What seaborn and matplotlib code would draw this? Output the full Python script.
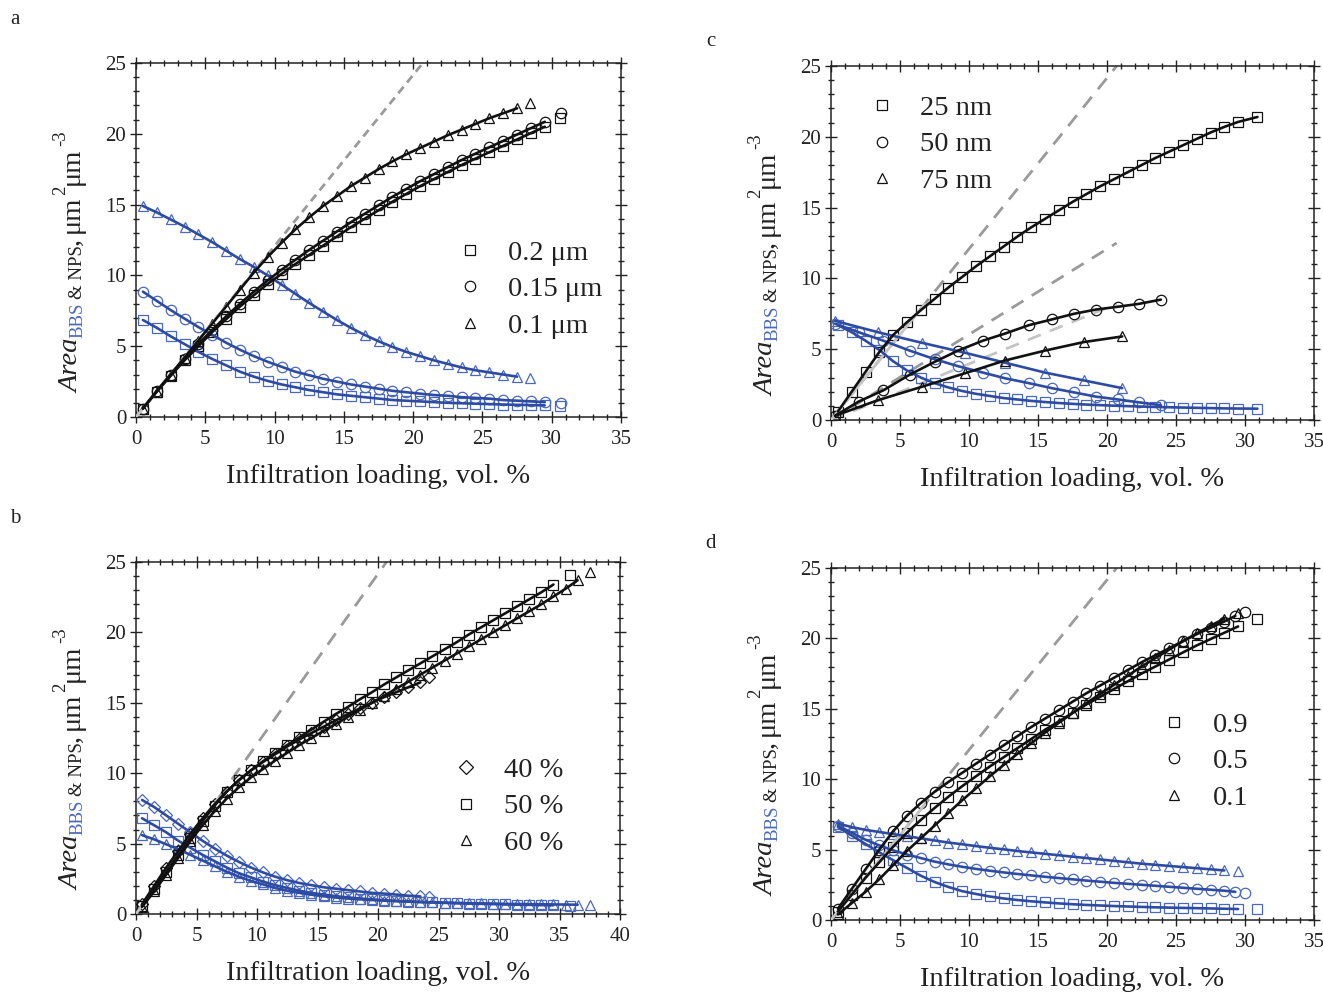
import numpy as np
import matplotlib
matplotlib.use("Agg")
import matplotlib.pyplot as plt
import matplotlib.transforms as mtransforms
from matplotlib.lines import Line2D
from matplotlib.ticker import MultipleLocator
import seaborn as sns

sns.set_theme(style="ticks")
plt.rcParams["font.family"] = ["Liberation Serif", "DejaVu Serif"]

# ---------------- data: panel a ----------------
xa_sq = [0.5, 1.5, 2.5, 3.5, 4.5, 5.5, 6.5, 7.5, 8.5, 9.5, 10.5, 11.5, 12.5, 13.5, 14.5, 15.5,
         16.5, 17.5, 18.5, 19.5, 20.5, 21.5, 22.5, 23.5, 24.5, 25.5, 26.5, 27.5, 28.5, 29.5, 30.6]
xa_ci = [0.5, 1.5, 2.5, 3.5, 4.5, 5.5, 6.5, 7.5, 8.5, 9.5, 10.5, 11.5, 12.5, 13.5, 14.5, 15.5,
         16.5, 17.5, 18.5, 19.5, 20.5, 21.5, 22.5, 23.5, 24.5, 25.5, 26.5, 27.5, 28.5, 29.5, 30.7]
xa_tr = [0.5, 1.5, 2.5, 3.5, 4.5, 5.5, 6.5, 7.5, 8.5, 9.5, 10.5, 11.5, 12.5, 13.5, 14.5, 15.5,
         16.5, 17.5, 18.5, 19.5, 20.5, 21.5, 22.5, 23.5, 24.5, 25.5, 26.5, 27.5, 28.4]
ya_sq_k = [0.6, 1.8, 2.9, 4.0, 5.0, 6.0, 6.9, 7.8, 8.6, 9.4, 10.1, 10.8, 11.45, 12.1, 12.75, 13.4,
           14.0, 14.6, 15.2, 15.75, 16.3, 16.8, 17.3, 17.8, 18.25, 18.7, 19.15, 19.6, 20.05, 20.5, 21.1]
ya_ci_k = [0.6, 1.85, 3.0, 4.1, 5.15, 6.15, 7.1, 8.0, 8.85, 9.65, 10.4, 11.1, 11.8, 12.45, 13.1, 13.75,
           14.35, 14.95, 15.55, 16.1, 16.65, 17.15, 17.65, 18.15, 18.6, 19.05, 19.5, 19.95, 20.4, 20.85, 21.5]
ya_tr_k = [0.6, 1.8, 3.0, 4.2, 5.4, 6.6, 7.8, 9.0, 10.2, 11.3, 12.3, 13.25, 14.1, 14.9, 15.6, 16.3,
           16.9, 17.5, 18.05, 18.55, 19.0, 19.45, 19.9, 20.3, 20.7, 21.1, 21.45, 21.8, 22.2]
ya_sq_b = [6.85, 6.3, 5.7, 5.15, 4.6, 4.1, 3.65, 3.2, 2.85, 2.55, 2.3, 2.1, 1.9, 1.75, 1.6, 1.5,
           1.4, 1.3, 1.2, 1.15, 1.1, 1.05, 1.0, 0.97, 0.94, 0.91, 0.88, 0.86, 0.84, 0.82, 0.8]
ya_ci_b = [8.85, 8.2, 7.55, 6.95, 6.35, 5.8, 5.25, 4.75, 4.3, 3.9, 3.55, 3.2, 2.95, 2.7, 2.5, 2.3,
           2.15, 2.0, 1.85, 1.75, 1.65, 1.55, 1.5, 1.4, 1.35, 1.3, 1.2, 1.15, 1.1, 1.05, 1.0]
ya_tr_b = [14.9, 14.45, 13.95, 13.45, 12.9, 12.35, 11.75, 11.15, 10.6, 10.0, 9.35, 8.7, 8.05, 7.45,
           6.85, 6.3, 5.8, 5.35, 4.95, 4.6, 4.3, 4.0, 3.75, 3.5, 3.3, 3.15, 3.0, 2.85, 2.75]
labels_a = ["0.2 μm", "0.15 μm", "0.1 μm"]

# ---------------- data: panel b ----------------
xb_di = [0.5, 1.5, 2.5, 3.5, 4.5, 5.5, 6.5, 7.5, 8.5, 9.5, 10.5, 11.5, 12.5, 13.5, 14.5, 15.5,
         16.5, 17.5, 18.5, 19.5, 20.5, 21.5, 22.5, 23.5, 24.2]
xb_sq = [0.5, 1.5, 2.5, 3.5, 4.5, 5.5, 6.5, 7.5, 8.5, 9.5, 10.5, 11.5, 12.5, 13.5, 14.5, 15.5,
         16.5, 17.5, 18.5, 19.5, 20.5, 21.5, 22.5, 23.5, 24.5, 25.5, 26.5, 27.5, 28.5, 29.5, 30.5,
         31.5, 32.5, 33.5, 34.5, 35.9]
xb_tr = [0.5, 1.5, 2.5, 3.5, 4.5, 5.5, 6.5, 7.5, 8.5, 9.5, 10.5, 11.5, 12.5, 13.5, 14.5, 15.5,
         16.5, 17.5, 18.5, 19.5, 20.5, 21.5, 22.5, 23.5, 24.5, 25.5, 26.5, 27.5, 28.5, 29.5, 30.5,
         31.5, 32.5, 33.5, 34.5, 35.5, 36.5, 37.5]
yb_di_k = [0.7, 2.0, 3.3, 4.5, 5.7, 6.8, 7.8, 8.7, 9.5, 10.2, 10.8, 11.35, 11.9, 12.4, 12.85, 13.3,
           13.75, 14.2, 14.6, 15.0, 15.4, 15.75, 16.1, 16.45, 16.8]
yb_sq_k = [0.6, 1.8, 3.0, 4.2, 5.4, 6.6, 7.7, 8.7, 9.5, 10.2, 10.85, 11.45, 12.0, 12.55, 13.1, 13.65,
           14.2, 14.7, 15.25, 15.75, 16.3, 16.8, 17.3, 17.8, 18.3, 18.8, 19.3, 19.85, 20.35, 20.85,
           21.35, 21.85, 22.35, 22.85, 23.4, 24.1]
yb_tr_k = [0.5, 1.6, 2.8, 4.0, 5.2, 6.3, 7.3, 8.2, 9.0, 9.7, 10.3, 10.9, 11.45, 12.0, 12.5, 13.0,
           13.5, 14.0, 14.5, 15.0, 15.5, 16.0, 16.5, 17.0, 17.5, 18.0, 18.5, 19.0, 19.5, 20.0, 20.5,
           21.0, 21.5, 22.0, 22.55, 23.1, 23.7, 24.3]
yb_di_b = [8.1, 7.6, 7.0, 6.4, 5.8, 5.2, 4.65, 4.15, 3.7, 3.3, 2.95, 2.65, 2.4, 2.2, 2.05, 1.9,
           1.8, 1.7, 1.6, 1.5, 1.45, 1.38, 1.3, 1.25, 1.2]
yb_sq_b = [6.8, 6.3, 5.8, 5.2, 4.7, 4.2, 3.75, 3.3, 2.9, 2.6, 2.3, 2.05, 1.85, 1.65, 1.5, 1.38,
           1.27, 1.18, 1.1, 1.04, 0.98, 0.93, 0.89, 0.85, 0.82, 0.79, 0.76, 0.74, 0.72, 0.7, 0.68,
           0.66, 0.65, 0.63, 0.62, 0.6]
yb_tr_b = [5.6, 5.3, 4.95, 4.6, 4.2, 3.8, 3.4, 3.0, 2.65, 2.35, 2.1, 1.85, 1.65, 1.5, 1.37, 1.26,
           1.17, 1.1, 1.04, 0.99, 0.95, 0.91, 0.88, 0.85, 0.83, 0.81, 0.79, 0.77, 0.75, 0.74, 0.72,
           0.71, 0.7, 0.69, 0.68, 0.67, 0.66, 0.65]
labels_b = ["40 %", "50 %", "60 %"]

# ---------------- data: panel c ----------------
xc_sq = [0.5, 1.5, 2.5, 3.5, 4.5, 5.5, 6.5, 7.5, 8.5, 9.5, 10.5, 11.5, 12.5, 13.5, 14.5, 15.5,
         16.5, 17.5, 18.5, 19.5, 20.5, 21.5, 22.5, 23.5, 24.5, 25.5, 26.5, 27.5, 28.5, 29.5, 30.9]
xc_ci = [0.3, 2.0, 3.8, 5.7, 7.5, 9.2, 11.0, 12.6, 14.35, 16.0, 17.6, 19.2, 20.8, 22.3, 23.9]
xc_tr = [0.3, 3.4, 6.6, 9.7, 12.6, 15.5, 18.3, 21.1]
yc_sq_k = [0.6, 2.0, 3.4, 4.8, 6.0, 6.9, 7.75, 8.55, 9.35, 10.1, 10.85, 11.55, 12.25, 12.95, 13.6,
           14.2, 14.8, 15.4, 15.95, 16.5, 17.0, 17.5, 18.0, 18.5, 18.95, 19.4, 19.85, 20.3, 20.7,
           21.05, 21.4]
yc_ci_k = [0.3, 1.3, 2.1, 3.2, 4.1, 4.9, 5.6, 6.1, 6.7, 7.1, 7.5, 7.8, 8.0, 8.2, 8.5]
yc_tr_k = [0.3, 1.4, 2.35, 3.3, 4.2, 4.9, 5.5, 5.9]
yc_sq_b = [6.7, 6.2, 5.6, 4.95, 4.15, 3.5, 3.0, 2.6, 2.3, 2.05, 1.85, 1.7, 1.55, 1.45, 1.35, 1.27,
           1.2, 1.14, 1.09, 1.05, 1.01, 0.98, 0.95, 0.92, 0.9, 0.88, 0.86, 0.84, 0.82, 0.81, 0.8]
yc_ci_b = [6.8, 6.2, 5.6, 4.9, 4.3, 3.8, 3.35, 2.95, 2.6, 2.25, 1.95, 1.65, 1.45, 1.25, 1.05]
yc_tr_b = [7.0, 6.2, 5.45, 4.75, 4.05, 3.35, 2.8, 2.25]
labels_c = ["25 nm", "50 nm", "75 nm"]

# ---------------- data: panel d ----------------
xd_sq = [0.5, 1.5, 2.5, 3.5, 4.5, 5.5, 6.5, 7.5, 8.5, 9.5, 10.5, 11.5, 12.5, 13.5, 14.5, 15.5,
         16.5, 17.5, 18.5, 19.5, 20.5, 21.5, 22.5, 23.5, 24.5, 25.5, 26.5, 27.5, 28.5, 29.5, 30.9]
xd_ci = [0.5, 1.5, 2.5, 3.5, 4.5, 5.5, 6.5, 7.5, 8.5, 9.5, 10.5, 11.5, 12.5, 13.5, 14.5, 15.5,
         16.5, 17.5, 18.5, 19.5, 20.5, 21.5, 22.5, 23.5, 24.5, 25.5, 26.5, 27.5, 28.5, 29.3, 30.0]
xd_tr = [0.5, 1.5, 2.5, 3.5, 4.5, 5.5, 6.5, 7.5, 8.5, 9.5, 10.5, 11.5, 12.5, 13.5, 14.5, 15.5,
         16.5, 17.5, 18.5, 19.5, 20.5, 21.5, 22.5, 23.5, 24.5, 25.5, 26.5, 27.5, 28.5, 29.5]
yd_sq_k = [0.6, 1.8, 3.0, 4.1, 5.2, 6.2, 7.1, 7.95, 8.75, 9.5, 10.2, 10.9, 11.55, 12.2, 12.85, 13.5,
           14.1, 14.7, 15.3, 15.85, 16.4, 16.95, 17.5, 18.0, 18.5, 19.0, 19.5, 19.95, 20.4, 20.85, 21.4]
yd_ci_k = [0.8, 2.2, 3.6, 5.0, 6.3, 7.4, 8.3, 9.1, 9.8, 10.45, 11.1, 11.75, 12.4, 13.05, 13.7, 14.3,
           14.9, 15.5, 16.1, 16.65, 17.2, 17.75, 18.3, 18.8, 19.3, 19.8, 20.3, 20.75, 21.2, 21.6, 21.9]
yd_tr_k = [0.4, 1.2, 2.0, 2.9, 3.9, 4.9, 5.8, 6.7, 7.6, 8.5, 9.35, 10.2, 11.0, 11.8, 12.55, 13.3,
           14.0, 14.7, 15.4, 16.05, 16.7, 17.35, 18.0, 18.6, 19.2, 19.8, 20.35, 20.9, 21.4, 21.8]
yd_sq_b = [6.6, 6.0, 5.4, 4.8, 4.25, 3.7, 3.15, 2.7, 2.35, 2.05, 1.85, 1.67, 1.53, 1.42, 1.33, 1.25,
           1.18, 1.12, 1.07, 1.03, 0.99, 0.96, 0.93, 0.9, 0.88, 0.86, 0.84, 0.82, 0.8, 0.78, 0.76]
yd_ci_b = [6.7, 6.2, 5.7, 5.3, 4.95, 4.65, 4.4, 4.15, 3.95, 3.78, 3.63, 3.5, 3.38, 3.27, 3.17, 3.07,
           2.98, 2.89, 2.8, 2.72, 2.64, 2.57, 2.5, 2.43, 2.36, 2.29, 2.22, 2.15, 2.08, 2.0, 1.95]
yd_tr_b = [6.85, 6.6, 6.4, 6.25, 6.1, 5.95, 5.8, 5.65, 5.5, 5.38, 5.25, 5.13, 5.02, 4.9, 4.8, 4.7,
           4.6, 4.5, 4.4, 4.3, 4.2, 4.1, 4.0, 3.92, 3.84, 3.76, 3.68, 3.6, 3.52, 3.45]
labels_d = ["0.9", "0.5", "0.1"]

# reference lines (geometric upper bound and short initial-slope segment)
ref_x = [0, 20.7]
ref_y = [0, 25.0]
ref_c_mid_y = [0, 12.5]
ref_c_low_y = [0, 8.2]
seg_x = [0, 6.8]
seg_y = [0, 8.2]

# ---------------- styling ----------------
W, H = 1323, 996
BLUE_M = "#4a68bd"
BLUE_L = "#2d4ba3"
BLACK = "#111111"
TXT = "#222222"
GRAY = "#9a9a9a"
LGRAY = "#c4c4c4"
MS = 7.5

fig = plt.figure(figsize=(W / 100, H / 100), dpi=100)
fig.patch.set_facecolor("white")


def px_axes(left, top, right, bottom):
    return fig.add_axes([left / W, (H - bottom) / H, (right - left) / W, (bottom - top) / H])


ax_a = px_axes(136, 63, 621, 417)
ax_c = px_axes(831, 66, 1314, 420)
ax_b = px_axes(136, 562, 620, 914)
ax_d = px_axes(831, 568, 1314, 920)


def markers(ax, x, y, m, col, ms=MS):
    sns.lineplot(x=x, y=y, ax=ax, estimator=None, sort=False, color=col,
                 linestyle="none", marker=m, markersize=ms, markerfacecolor="none",
                 markeredgecolor=col, markeredgewidth=0.9, zorder=3)


def fit(ax, x, y, col, lw=1.9):
    sns.lineplot(x=x, y=y, ax=ax, estimator=None, sort=False, color=col,
                 linewidth=lw, zorder=4)


def dashed(ax, x, y, col, dashes, lw=2.0):
    sns.lineplot(x=x, y=y, ax=ax, estimator=None, sort=False, color=col,
                 linewidth=lw, dashes=False, zorder=2).lines[-1].set_dashes(dashes)


def style_axes(ax, xmax):
    ax.set_xlim(0, xmax)
    ax.set_ylim(0, 25)
    ax.xaxis.set_major_locator(MultipleLocator(5))
    ax.xaxis.set_minor_locator(MultipleLocator(1))
    ax.yaxis.set_major_locator(MultipleLocator(5))
    ax.yaxis.set_minor_locator(MultipleLocator(1))
    ax.tick_params(which="both", direction="inout", top=True, right=True,
                   labelsize=15, colors=TXT, width=1.0)
    ax.tick_params(which="major", length=8)
    ax.tick_params(which="minor", length=4.5)
    ax.tick_params(axis="x", pad=5)
    ax.tick_params(axis="y", pad=3)
    for s in ax.spines.values():
        s.set_linewidth(1.1)
        s.set_color(TXT)
        s.set_visible(True)
    ax.set_facecolor("white")
    ax.set_xlabel("Infiltration loading, vol. %", fontsize=20.5, color=TXT, labelpad=11)
    ax.set_ylabel("")


def legend(ax, mks, labels, anchor):
    handles = [Line2D([], [], linestyle="none", marker=m, markersize=MS, markerfacecolor="none",
                      markeredgecolor=BLACK, markeredgewidth=0.9) for m in mks]
    ax.legend(handles, labels, loc="upper left", bbox_to_anchor=anchor, frameon=False,
              fontsize=20.5, handlelength=1.0, handletextpad=0.85, labelspacing=0.36,
              borderpad=0, borderaxespad=0, labelcolor=TXT)


# ---- panel a ----
ax = ax_a
dashed(ax, ref_x, ref_y, GRAY, (3, 2))
fit(ax, seg_x, seg_y, LGRAY, 2.0)
for x, y, m in [(xa_sq, ya_sq_b, "s"), (xa_ci, ya_ci_b, "o"), (xa_tr, ya_tr_b, "^")]:
    markers(ax, x, y, m, BLUE_M)
    fit(ax, x[:-1], y[:-1], BLUE_L)
for x, y, m in [(xa_sq, ya_sq_k, "s"), (xa_ci, ya_ci_k, "o"), (xa_tr, ya_tr_k, "^")]:
    markers(ax, x, y, m, BLACK)
    fit(ax, x[:-1], y[:-1], BLACK)
style_axes(ax, 35)
legend(ax, ["s", "o", "^"], labels_a, (0.659, 0.499))

# ---- panel c ----
ax = ax_c
dashed(ax, ref_x, ref_y, GRAY, (5, 3.5))
dashed(ax, ref_x, ref_c_mid_y, GRAY, (5, 3.5))
dashed(ax, ref_x, ref_c_low_y, LGRAY, (5, 3.5))
fit(ax, seg_x, seg_y, LGRAY, 2.0)
for x, y, m in [(xc_sq, yc_sq_b, "s"), (xc_ci, yc_ci_b, "o"), (xc_tr, yc_tr_b, "^")]:
    markers(ax, x, y, m, BLUE_M)
    fit(ax, x, y, BLUE_L)
for x, y, m in [(xc_sq, yc_sq_k, "s"), (xc_ci, yc_ci_k, "o"), (xc_tr, yc_tr_k, "^")]:
    markers(ax, x, y, m, BLACK)
    fit(ax, x, y, BLACK)
style_axes(ax, 35)
legend(ax, ["s", "o", "^"], labels_c, (0.076, 0.917))

# ---- panel b ----
ax = ax_b
dashed(ax, ref_x, ref_y, GRAY, (5, 3.5))
fit(ax, seg_x, seg_y, LGRAY, 2.0)
for x, y, m in [(xb_di, yb_di_b, "D"), (xb_sq, yb_sq_b, "s"), (xb_tr, yb_tr_b, "^")]:
    markers(ax, x, y, m, BLUE_M, MS if m != "D" else 6.5)
    fit(ax, x[:-1], y[:-1], BLUE_L)
for x, y, m in [(xb_di, yb_di_k, "D"), (xb_sq, yb_sq_k, "s"), (xb_tr, yb_tr_k, "^")]:
    markers(ax, x, y, m, BLACK, MS if m != "D" else 6.5)
    fit(ax, x[:-1], y[:-1], BLACK)
style_axes(ax, 40)
legend(ax, ["D", "s", "^"], labels_b, (0.652, 0.445))

# ---- panel d ----
ax = ax_d
dashed(ax, ref_x, ref_y, GRAY, (5, 3.5))
fit(ax, seg_x, seg_y, LGRAY, 2.0)
for x, y, m in [(xd_sq, yd_sq_b, "s"), (xd_ci, yd_ci_b, "o"), (xd_tr, yd_tr_b, "^")]:
    markers(ax, x, y, m, BLUE_M)
    fit(ax, x[:-1], y[:-1], BLUE_L)
for x, y, m in [(xd_sq, yd_sq_k, "s"), (xd_ci, yd_ci_k, "o"), (xd_tr, yd_tr_k, "^")]:
    markers(ax, x, y, m, BLACK)
    fit(ax, x[:-1], y[:-1], BLACK)
style_axes(ax, 35)
legend(ax, ["s", "o", "^"], labels_d, (0.681, 0.590))

# ---- panel letters ----
for lab, (px, py) in zip("abcd", [(15, 20), (15, 518), (711, 42), (711, 543)]):
    fig.text(px / W, 1 - py / H, lab, fontsize=15, ha="center", va="center", color=TXT)

# ---- composite y labels: Area_{BBS & NPS}, μm^2 μm^-3 ----
fig.canvas.draw()
renderer = fig.canvas.get_renderer()
ident = mtransforms.IdentityTransform()
pieces = [
    ("Area", 20.5, TXT, "italic", 0, 1),
    ("BBS", 13.5, BLUE_M, "normal", 3, 3),
    ("& NPS", 13.5, TXT, "normal", 3, 0),
    (",", 20.5, TXT, "normal", 0, 5),
    ("μm", 20.5, TXT, "normal", 0, 1),
    ("2", 13.5, TXT, "normal", -14, 1),
    ("μm", 20.5, TXT, "normal", 0, 1),
    ("-3", 13.5, TXT, "normal", -14, 0),
]
for ax in [ax_a, ax_b, ax_c, ax_d]:
    bb = ax.get_window_extent(renderer)
    xb = bb.x0 - 57
    y = bb.y0 + 24
    for txt, size, col, sty, dx, gap in pieces:
        t = fig.text(xb + dx, y, txt, fontsize=size, color=col, style=sty, rotation=90,
                     rotation_mode="anchor", ha="left", va="baseline", transform=ident)
        ext = t.get_window_extent(renderer)
        y += ext.height + gap

fig.savefig("out.png", dpi=100, facecolor="white")
